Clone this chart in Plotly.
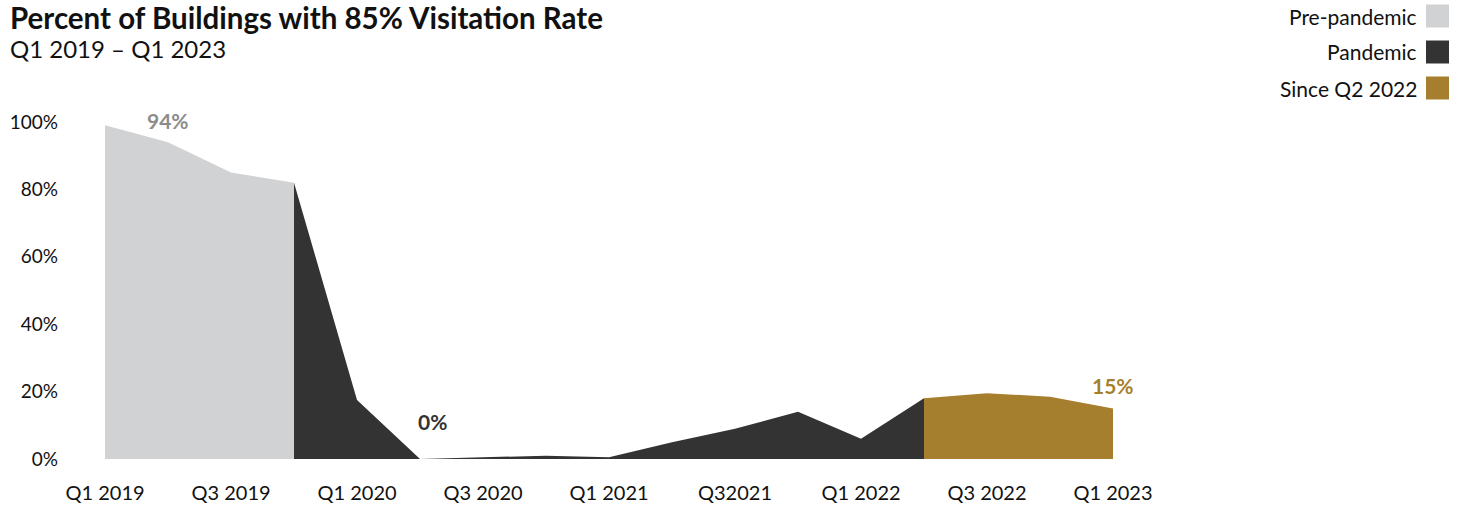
import plotly.graph_objects as go

# Quarterly share of buildings reaching an 85% visitation rate
quarters = ["Q1 2019", "Q2 2019", "Q3 2019", "Q4 2019",
            "Q1 2020", "Q2 2020", "Q3 2020", "Q4 2020",
            "Q1 2021", "Q2 2021", "Q3 2021", "Q4 2021",
            "Q1 2022", "Q2 2022", "Q3 2022", "Q4 2022", "Q1 2023"]
values = [99, 94, 85, 82,
          17.5, 0, 0.5, 1,
          0.5, 5, 9, 14,
          6, 18, 19.5, 18.5, 15]

tick_labels = ["Q1 2019", "Q3 2019", "Q1 2020", "Q3 2020", "Q1 2021",
               "Q32021", "Q1 2022", "Q3 2022", "Q1 2023"]
y_ticks = [0, 20, 40, 60, 80, 100]
y_tick_labels = [f"{v}%" for v in y_ticks]

# Period split (index ranges, inclusive) and styling
periods = [
    ("Pre-pandemic", 0, 3, "#d1d2d4"),
    ("Pandemic", 3, 13, "#333333"),
    ("Since Q2 2022", 13, 16, "#a67f2e"),
]

FONT = "Lato, 'Open Sans', sans-serif"
W, H = 1463, 510
ML, MR, MT, MB = 62, 350, 122, 51
PW, PH = W - ML - MR, H - MT - MB


def px(x):
    return (x - ML) / PW


def py(y):
    return (H - MB - y) / PH


fig = go.Figure()
idx = list(range(len(quarters)))
for name, a, b, color in periods:
    fig.add_trace(go.Scatter(
        x=idx[a:b + 1], y=values[a:b + 1], name=name,
        mode="lines", fill="tozeroy", fillcolor=color,
        line=dict(width=0, color=color), hoverinfo="skip",
        showlegend=False,
    ))

# Value callouts
callouts = [(1, "#8c8c8c", 0, 22), (5, "#333333", 12, 38), (16, "#a67f2e", 0, 23)]
for i, color, xs, ys in callouts:
    fig.add_annotation(x=i, y=values[i], text=f"<b>{values[i]:.0f}%</b>",
                       showarrow=False, xshift=xs, yshift=ys,
                       font=dict(family=FONT, size=21, color=color))

# Title and subtitle
fig.add_annotation(xref="paper", yref="paper", x=px(8), y=py(17),
                   xanchor="left", yanchor="middle", showarrow=False,
                   text="<b>Percent of Buildings with 85% Visitation Rate</b>",
                   font=dict(family=FONT, size=29.5, color="#111111"))
fig.add_annotation(xref="paper", yref="paper", x=px(8), y=py(49),
                   xanchor="left", yanchor="middle", showarrow=False,
                   text="Q1 2019 – Q1 2023",
                   font=dict(family=FONT, size=24, color="#111111"))

# Legend: labels on the left, swatches on the right
for k, (name, a, b, color) in enumerate(periods):
    cy = 16 + 36 * k
    fig.add_annotation(xref="paper", yref="paper", x=px(1419), y=py(cy),
                       xanchor="right", yanchor="middle", showarrow=False,
                       text=name, font=dict(family=FONT, size=21, color="#111111"))
    fig.add_shape(type="rect", xref="paper", yref="paper",
                  x0=px(1426), x1=px(1449), y0=py(cy - 11.5), y1=py(cy + 11.5),
                  fillcolor=color, line=dict(width=0))

fig.update_layout(
    width=W, height=H,
    margin=dict(l=ML, r=MR, t=MT, b=MB, autoexpand=False),
    paper_bgcolor="white", plot_bgcolor="white",
    font=dict(family=FONT, size=18, color="#111111"),
    showlegend=False,
    xaxis=dict(range=[-0.683, 16], tickmode="array",
               tickvals=idx[::2], ticktext=tick_labels,
               showgrid=False, zeroline=False, showline=False,
               ticks="", ticklabelstandoff=20, automargin=False,
               tickfont=dict(family=FONT, size=20, color="#111111")),
    yaxis=dict(range=[0, 100], tickmode="array",
               tickvals=y_ticks, ticktext=y_tick_labels,
               showgrid=False, zeroline=False,
               showline=False, ticks="", ticklabelstandoff=3,
               automargin=False,
               tickfont=dict(family=FONT, size=19, color="#111111")),
)

fig.write_html("out.html")
